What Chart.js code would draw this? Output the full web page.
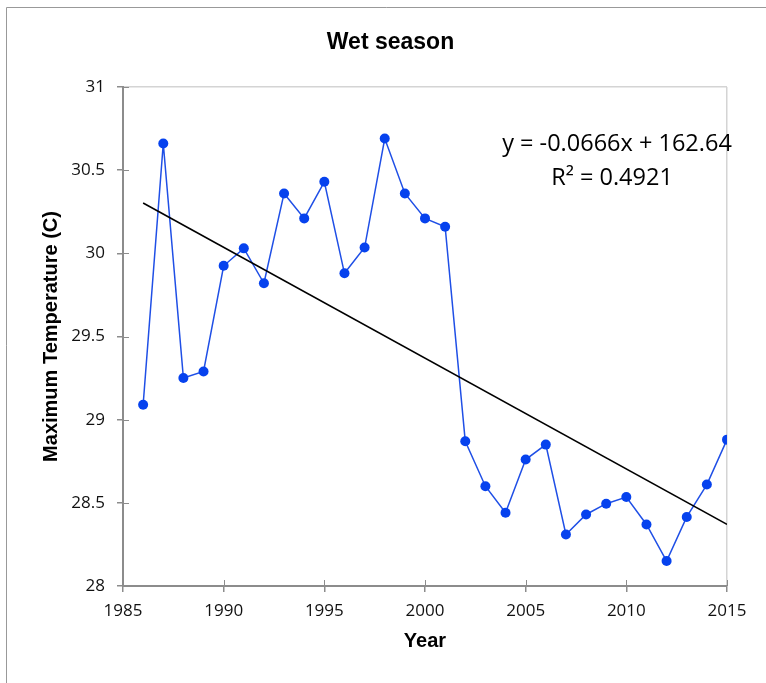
<!DOCTYPE html>
<html>
<head>
<meta charset="utf-8">
<title>Wet season</title>
<script src="https://cdn.jsdelivr.net/npm/chart.js@4/dist/chart.umd.min.js"></script>
<style>
  html, body { margin: 0; padding: 0; background: #ffffff; }
  #wrap { position: relative; width: 766px; height: 683px; }
  canvas { display: block; }
</style>
</head>
<body>
<div id="wrap"><canvas id="chart" width="766" height="683"></canvas></div>
<script>
// Wet season maximum temperature by year
const years = [1986, 1987, 1988, 1989, 1990, 1991, 1992, 1993, 1994, 1995,
               1996, 1997, 1998, 1999, 2000, 2001, 2002, 2003, 2004, 2005,
               2006, 2007, 2008, 2009, 2010, 2011, 2012, 2013, 2014, 2015];
const maxTemp = [29.09, 30.66, 29.25, 29.29, 29.925, 30.03, 29.82, 30.36, 30.21, 30.43,
                 29.88, 30.035, 30.69, 30.36, 30.21, 30.16, 28.87, 28.60, 28.44, 28.76,
                 28.85, 28.31, 28.43, 28.495, 28.535, 28.37, 28.15, 28.415, 28.61, 28.88];

// Linear trend (shown rounded in the equation label)
const trendSlope = -0.066635;
const trendIntercept = 162.64;
const trendR2 = 0.4921;

// Axis ranges and tick spacing
const xRange = [1985, 2015];
const xStep = 5;
const yRange = [28, 31];
const yStep = 0.5;

const seriesPoints = years.map((yr, i) => ({ x: yr, y: maxTemp[i] }));
const trendYears = [years[0], years[years.length - 1]];
const trendPoints = trendYears.map(yr => ({ x: yr, y: trendSlope * yr + trendIntercept }));

const AXIS_GREY = '#8c8c8c';
const FRAME_GREY = '#d4d4d4';
const TICK_FONT = { family: '"Open Sans", "Liberation Sans", sans-serif', size: 17 };
const TITLE_FAMILY = '"Liberation Sans", Arial, sans-serif';

// Outer frame, chart title, inner half of tick marks and the trend equation
const decorations = {
  id: 'decorations',
  beforeDraw(chart) {
    const ctx = chart.ctx;
    ctx.save();
    ctx.strokeStyle = '#999999';
    ctx.lineWidth = 1;
    ctx.beginPath();
    ctx.moveTo(6.5, chart.height);
    ctx.lineTo(6.5, 7.5);
    ctx.lineTo(chart.width, 7.5);
    ctx.stroke();
    ctx.restore();
  },
  afterDraw(chart) {
    const ctx = chart.ctx;
    const area = chart.chartArea;
    const xs = chart.scales.x;
    const ys = chart.scales.y;
    ctx.save();
    // tick marks continue a few pixels into the plot area
    ctx.strokeStyle = AXIS_GREY;
    ctx.lineWidth = 1;
    ctx.beginPath();
    xs.ticks.forEach((t, i) => {
      const px = Math.round(xs.getPixelForTick(i)) + 0.5;
      ctx.moveTo(px, area.bottom);
      ctx.lineTo(px, area.bottom - 6);
    });
    ys.ticks.forEach((t, i) => {
      const py = Math.round(ys.getPixelForTick(i)) + 0.5;
      ctx.moveTo(area.left, py);
      ctx.lineTo(area.left + 6, py);
    });
    ctx.stroke();

    // chart title
    ctx.fillStyle = '#000000';
    ctx.textAlign = 'center';
    ctx.textBaseline = 'alphabetic';
    ctx.font = 'bold 23px ' + TITLE_FAMILY;
    ctx.fillText('Wet season', 390.5, 48.5);

    // trend equation
    ctx.font = '23.5px "Open Sans", sans-serif';
    const sign = trendIntercept >= 0 ? '+' : '-';
    const eq = 'y = ' + trendSlope.toFixed(4) + 'x ' + sign + ' ' + Math.abs(trendIntercept).toFixed(2);
    ctx.fillText(eq, 617, 151);
    ctx.fillText('R\u00B2 = ' + trendR2.toFixed(4), 612, 185);
    ctx.restore();
  }
};

new Chart(document.getElementById('chart'), {
  type: 'scatter',
  data: {
    datasets: [
      {
        label: 'Maximum Temperature',
        data: seriesPoints,
        showLine: true,
        borderColor: '#1f4fe6',
        borderWidth: 1.5,
        backgroundColor: '#0642ee',
        pointBackgroundColor: '#0642ee',
        pointBorderColor: '#0642ee',
        pointRadius: 5,
        pointBorderWidth: 0,
        order: 2
      },
      {
        label: 'Linear trend',
        data: trendPoints,
        showLine: true,
        borderColor: '#000000',
        borderWidth: 1.6,
        pointRadius: 0,
        order: 1
      }
    ]
  },
  options: {
    responsive: false,
    animation: false,
    devicePixelRatio: 1,
    layout: { padding: { left: 0, right: 39, top: 87, bottom: 0 } },
    plugins: {
      legend: { display: false },
      title: { display: false },
      tooltip: { enabled: false }
    },
    scales: {
      x: {
        type: 'linear',
        min: xRange[0],
        max: xRange[1],
        afterFit(scale) { scale.height = 97; },
        ticks: {
          stepSize: xStep,
          padding: 9,
          color: '#111111',
          font: TICK_FONT,
          maxRotation: 0,
          callback: v => String(v)
        },
        grid: {
          drawOnChartArea: true,
          color: c => (c.tick && c.tick.value === xRange[1]) ? FRAME_GREY : 'rgba(0,0,0,0)',
          tickColor: AXIS_GREY,
          tickLength: 6,
          lineWidth: 1.5
        },
        border: { display: true, color: AXIS_GREY, width: 2 },
        title: {
          display: true,
          text: 'Year',
          color: '#000000',
          font: { family: TITLE_FAMILY, size: 20, weight: 'bold' },
          padding: { top: 0, bottom: 30 }
        }
      },
      y: {
        type: 'linear',
        min: yRange[0],
        max: yRange[1],
        afterFit(scale) { scale.width = 123; },
        ticks: {
          stepSize: yStep,
          padding: 12,
          color: '#111111',
          font: TICK_FONT,
          callback: v => String(Number(v.toFixed(1)))
        },
        grid: {
          drawOnChartArea: true,
          color: c => (c.tick && c.tick.value === yRange[1]) ? FRAME_GREY : 'rgba(0,0,0,0)',
          tickColor: AXIS_GREY,
          tickLength: 6,
          lineWidth: 1.5
        },
        border: { display: true, color: AXIS_GREY, width: 2 },
        title: {
          display: true,
          text: 'Maximum Temperature (C)',
          color: '#000000',
          font: { family: TITLE_FAMILY, size: 20, weight: 'bold' },
          padding: { top: 39, bottom: 0 }
        }
      }
    }
  },
  plugins: [decorations]
});
</script>
</body>
</html>
